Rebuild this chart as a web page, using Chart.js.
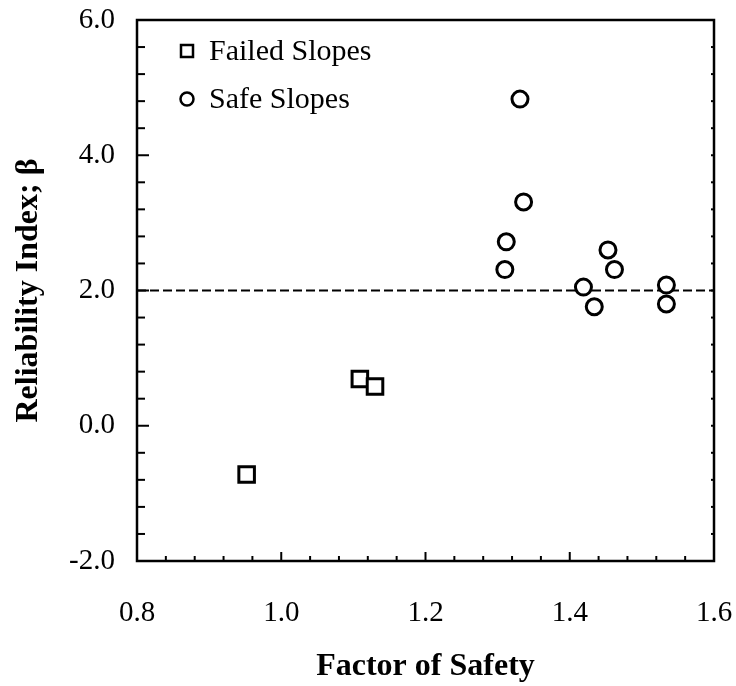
<!DOCTYPE html>
<html>
<head>
<meta charset="utf-8">
<script src="https://cdn.jsdelivr.net/npm/chart.js@4/dist/chart.umd.min.js"></script>
<style>
  html, body { margin: 0; padding: 0; background: #fff; }
  canvas { display: block; }
</style>
</head>
<body>
<canvas id="fsChart" width="736" height="686"></canvas>
<script>
// values
const failedFS = [0.952, 1.109, 1.130];
const failedBeta = [-0.72, 0.69, 0.58];
const safeFS = [1.331, 1.336, 1.312, 1.310, 1.453, 1.462, 1.419, 1.434, 1.534, 1.534];
const safeBeta = [4.83, 3.31, 2.72, 2.31, 2.60, 2.31, 2.05, 1.76, 2.08, 1.80];
const thresholdFS = [0.8, 1.6];
const thresholdBeta = [2.0, 2.0];
const xTicks = { min: 0.8, max: 1.6, step: 0.04, major: 0.2 };
const yTicks = { min: -2.0, max: 6.0, step: 0.4, major: 2.0 };

const serif = 'Liberation Serif, Times New Roman, serif';

const isMajor = (v, every) => Math.abs(v / every - Math.round(v / every)) < 1e-6;

// frame round the plot plus inward tick marks
const frameAndTicks = {
    id: 'frameAndTicks',
    afterDatasetsDraw(chart) {
        const { ctx, chartArea: a, scales } = chart;
        ctx.save();
        ctx.strokeStyle = '#000';
        ctx.lineWidth = 2;
        scales.x.ticks.forEach((t) => {
            const px = scales.x.getPixelForValue(t.value);
            const len = isMajor(t.value, xTicks.major) ? 9 : 5;
            ctx.beginPath();
            ctx.moveTo(px, a.bottom);
            ctx.lineTo(px, a.bottom - len);
            ctx.stroke();
        });
        scales.y.ticks.forEach((t) => {
            const py = scales.y.getPixelForValue(t.value);
            const len = isMajor(t.value, yTicks.major) ? 12 : 8;
            ctx.beginPath();
            ctx.moveTo(a.left, py);
            ctx.lineTo(a.left + len, py);
            ctx.stroke();
            ctx.beginPath();
            ctx.moveTo(a.right, py);
            ctx.lineTo(a.right - 3, py);
            ctx.stroke();
        });
        ctx.lineWidth = 2.5;
        ctx.strokeRect(a.left, a.top, a.right - a.left, a.bottom - a.top);
        ctx.restore();
    }
};

// legend sitting inside the plot, top left
const insideLegend = {
    id: 'insideLegend',
    afterDraw(chart) {
        const { ctx, chartArea: a } = chart;
        const items = chart.data.datasets.filter((d) => d.showInLegend);
        ctx.save();
        ctx.font = '30px ' + serif;
        ctx.fillStyle = '#000';
        ctx.strokeStyle = '#000';
        ctx.lineWidth = 2.5;
        ctx.textBaseline = 'middle';
        items.forEach((d, i) => {
            const cx = a.left + 50;
            const cy = a.top + 31 + i * 48;
            ctx.beginPath();
            if (d.pointStyle === 'rect') {
                ctx.rect(cx - 6, cy - 6, 12, 12);
            } else {
                ctx.arc(cx, cy, 6.5, 0, Math.PI * 2);
            }
            ctx.stroke();
            ctx.fillText(d.label, a.left + 72, cy + 1);
        });
        ctx.restore();
    }
};

new Chart(document.getElementById('fsChart'), {
    type: 'scatter',
    data: {
        datasets: [
            {
                label: 'Failed Slopes',
                showInLegend: true,
                data: failedFS.map((x, i) => ({ x, y: failedBeta[i] })),
                pointStyle: 'rect',
                pointRadius: 11,
                pointBorderWidth: 3,
                pointBackgroundColor: '#fff',
                pointBorderColor: '#000',
            },
            {
                label: 'Safe Slopes',
                showInLegend: true,
                data: safeFS.map((x, i) => ({ x, y: safeBeta[i] })),
                pointStyle: 'circle',
                pointRadius: 8,
                pointBorderWidth: 3,
                pointBackgroundColor: '#fff',
                pointBorderColor: '#000',
            },
            {
                label: 'beta = 2',
                type: 'line',
                data: thresholdFS.map((x, i) => ({ x, y: thresholdBeta[i] })),
                borderColor: '#000',
                borderWidth: 1.8,
                borderDash: [9, 4],
                pointRadius: 0,
                fill: false,
                order: 5,
            },
        ],
    },
    options: {
        responsive: false,
        animation: false,
        devicePixelRatio: 1,
        layout: { padding: { top: 20, right: 22, left: 0, bottom: 0 } },
        plugins: {
            legend: { display: false },
            tooltip: { enabled: false },
        },
        scales: {
            x: {
                type: 'linear',
                min: xTicks.min,
                max: xTicks.max,
                grid: { display: false, drawTicks: false },
                border: { display: false },
                afterFit: (s) => {
                    s.height = 125;
                    s.paddingLeft = 0;
                    s.paddingRight = 0;
                },
                ticks: {
                    stepSize: xTicks.step,
                    autoSkip: false,
                    maxRotation: 0,
                    padding: 35,
                    color: '#000',
                    font: { family: serif, size: 29 },
                    callback: (v) => (isMajor(v, xTicks.major) ? Number(v).toFixed(1) : ''),
                },
                title: {
                    display: true,
                    text: 'Factor of Safety',
                    color: '#000',
                    font: { family: serif, size: 32, weight: 'bold' },
                    padding: { top: 0, bottom: 0 },
                },
            },
            y: {
                type: 'linear',
                min: yTicks.min,
                max: yTicks.max,
                grid: { display: false, drawTicks: false },
                border: { display: false },
                afterFit: (s) => {
                    s.width = 137;
                    s.paddingTop = 0;
                    s.paddingBottom = 0;
                },
                ticks: {
                    stepSize: yTicks.step,
                    autoSkip: false,
                    padding: 22,
                    color: '#000',
                    font: { family: serif, size: 29 },
                    callback: (v) => (isMajor(v, yTicks.major) ? Number(v).toFixed(1) : ''),
                },
                title: {
                    display: true,
                    text: 'Reliability Index; β',
                    color: '#000',
                    font: { family: serif, size: 32, weight: 'bold' },
                    padding: { top: 10, bottom: 0 },
                },
            },
        },
    },
    plugins: [frameAndTicks, insideLegend],
});
</script>
</body>
</html>
